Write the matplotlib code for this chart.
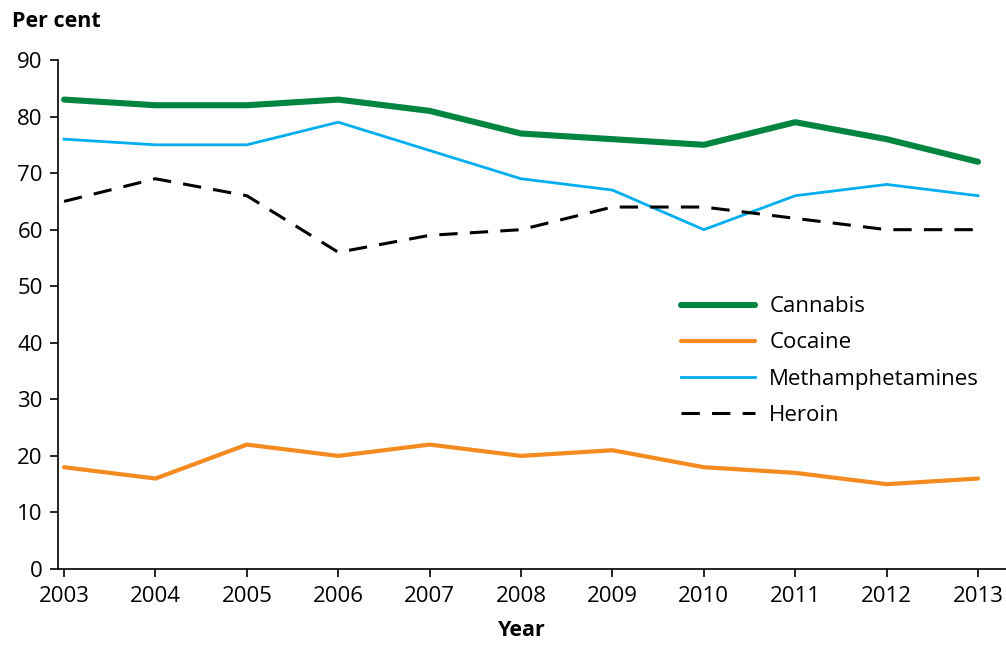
import matplotlib
matplotlib.use("Agg")
import matplotlib.pyplot as plt

# ── Data ────────────────────────────────────────────────────────────────
years = [2003, 2004, 2005, 2006, 2007, 2008, 2009, 2010, 2011, 2012, 2013]
cannabis = [83, 82, 82, 83, 81, 77, 76, 75, 79, 76, 72]
cocaine = [18, 16, 22, 20, 22, 20, 21, 18, 17, 15, 16]
methamphetamines = [76, 75, 75, 79, 74, 69, 67, 60, 66, 68, 66]
heroin = [65, 69, 66, 56, 59, 60, 64, 64, 62, 60, 60]
y_ticks = [0, 10, 20, 30, 40, 50, 60, 70, 80, 90]

plt.rcParams["font.family"] = ["Open Sans", "DejaVu Sans"]

fig = plt.figure(figsize=(10.06, 6.45), dpi=100)
ax = fig.add_axes([0.0577, 0.1178, 0.9423, 0.7892])

ax.plot(years, cannabis, color="#008540", lw=4.4, solid_capstyle="round",
        solid_joinstyle="round", label="Cannabis")
ax.plot(years, cocaine, color="#F58A1F", lw=3.0, solid_capstyle="round",
        solid_joinstyle="round", label="Cocaine")
ax.plot(years, methamphetamines, color="#00AEEF", lw=2.0,
        solid_joinstyle="round", label="Methamphetamines")
ax.plot(years, heroin, color="black", lw=2.2, dashes=(6, 4),
        label="Heroin")

ax.set_xlim(2002.934, 2013.306)
ax.set_ylim(0, 90)
ax.set_xticks(years)
ax.set_yticks(y_ticks)
ax.tick_params(axis="both", labelsize=16, length=6, width=1.2, color="black",
               direction="out")
ax.tick_params(axis="x", pad=6)
ax.tick_params(axis="y", pad=5)

for s in ["top", "right"]:
    ax.spines[s].set_visible(False)
for s in ["left", "bottom"]:
    ax.spines[s].set_linewidth(1.2)

fig.text(0.012, 0.966, "Per cent", fontsize=15.5, fontweight="bold",
         ha="left", va="center")
fig.text(0.519, 0.022, "Year", fontsize=15.5, fontweight="bold",
         ha="center", va="center")

ax.legend(loc="upper left", bbox_to_anchor=(0.6365, 0.575), frameon=False,
          fontsize=16, handlelength=3.3, handletextpad=0.65, labelspacing=0.68)

fig.savefig("out.png", dpi=100)
